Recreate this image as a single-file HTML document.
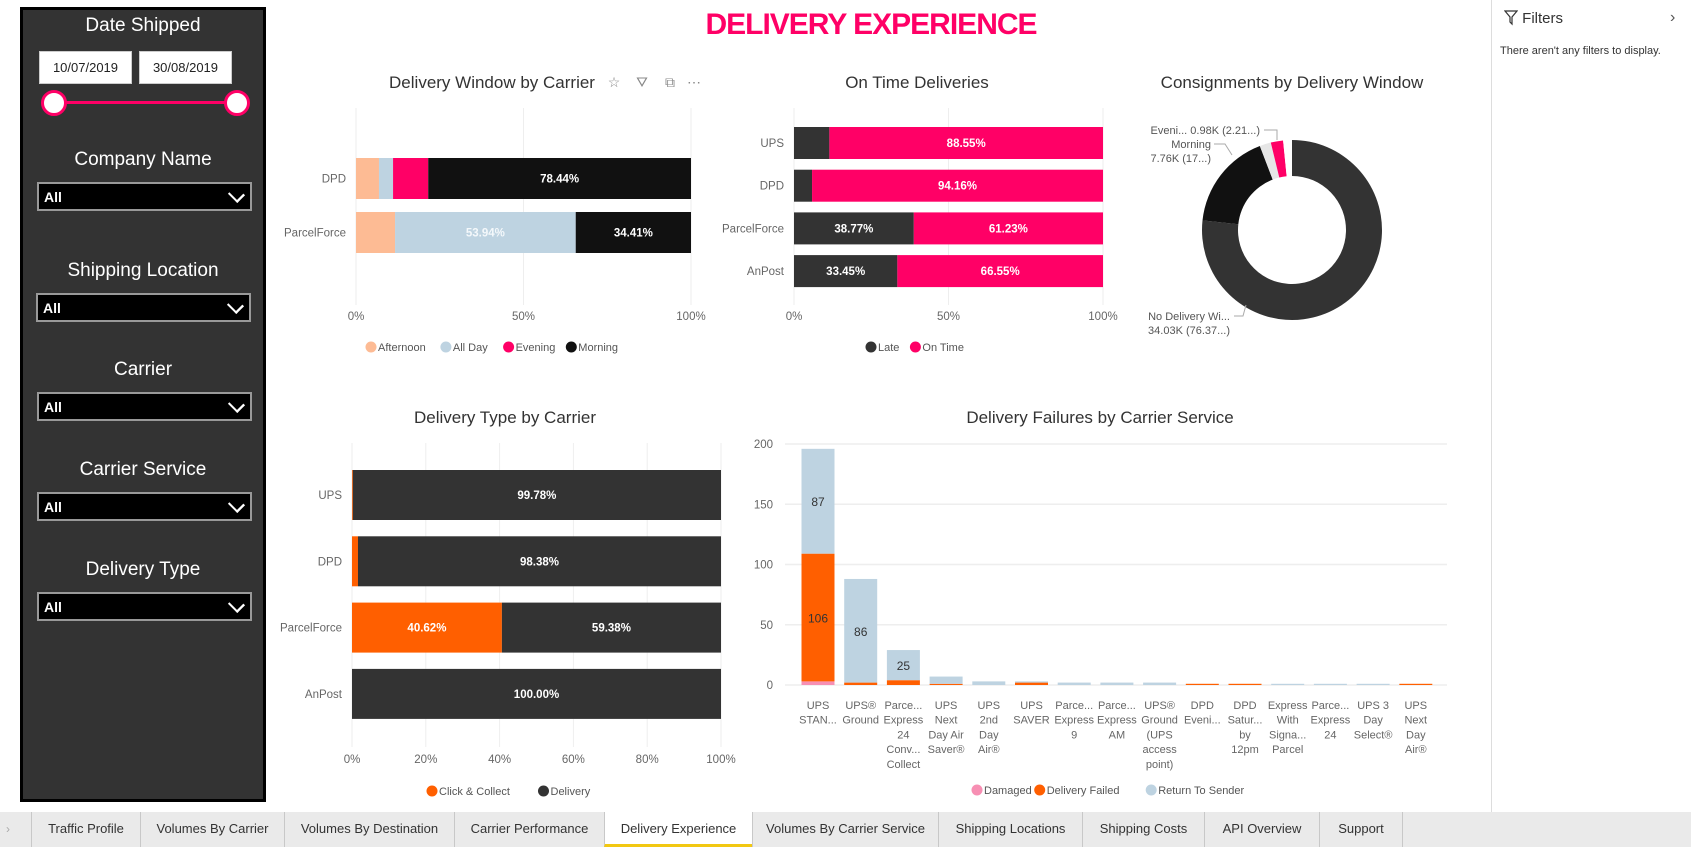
<!DOCTYPE html>
<html><head><meta charset="utf-8">
<style>
*{margin:0;padding:0;box-sizing:border-box}
body{width:1691px;height:847px;position:relative;background:#fff;font-family:"Liberation Sans",sans-serif;overflow:hidden}
.abs{position:absolute}
#panel{left:20px;top:7px;width:246px;height:795px;background:#333;border:3px solid #000}
.ptitle{position:absolute;left:0;width:240px;text-align:center;color:#fff;font-size:19px}
.date{position:absolute;top:41px;height:33px;width:93px;background:#fff;border:1px solid #ccc;font-size:13px;color:#222;text-align:center;line-height:31px}
.dd{position:absolute;left:14px;width:215px;height:29px;background:#000;border:2px solid #999;color:#fff;font-size:14px;font-weight:bold;padding-left:5px;line-height:27px}
.dd span.chev{position:absolute;right:8px;top:5px;width:11px;height:11px;border-right:2px solid #fff;border-bottom:2px solid #fff;transform:rotate(45deg) scaleX(1.2)}
#tabs{left:0;top:812px;width:1691px;height:35px;background:#eaeaea}
.tab{position:absolute;top:0;height:35px;border-left:1px solid #c8c8c8;font-size:13px;color:#333;text-align:center;line-height:34px}
.tab.active{background:#fff;border-bottom:3px solid #F2C811}
</style></head><body>
<div id="panel" class="abs">
 <div class="ptitle" style="top:5px">Date Shipped</div>
 <div class="date" style="left:16px">10/07/2019</div>
 <div class="date" style="left:116px">30/08/2019</div>
 <div class="abs" style="left:31px;top:91px;width:183px;height:3px;background:#FF0066"></div>
 <div class="abs" style="left:18px;top:80px;width:26px;height:26px;border-radius:50%;background:#fff;border:3px solid #FF0066"></div>
 <div class="abs" style="left:201px;top:80px;width:26px;height:26px;border-radius:50%;background:#fff;border:3px solid #FF0066"></div>
 <div class="ptitle" style="top:139px">Company Name</div>
 <div class="dd" style="top:172px">All<span class="chev"></span></div>
 <div class="ptitle" style="top:250px">Shipping Location</div>
 <div class="dd" style="top:283px;left:13px">All<span class="chev"></span></div>
 <div class="ptitle" style="top:349px">Carrier</div>
 <div class="dd" style="top:382px">All<span class="chev"></span></div>
 <div class="ptitle" style="top:449px">Carrier Service</div>
 <div class="dd" style="top:482px">All<span class="chev"></span></div>
 <div class="ptitle" style="top:549px">Delivery Type</div>
 <div class="dd" style="top:582px">All<span class="chev"></span></div>
</div>

<div class="abs" style="left:600px;top:8px;width:542px;text-align:center;font-size:30px;font-weight:bold;color:#FF0066;letter-spacing:-1px">DELIVERY EXPERIENCE</div>

<div class="abs" style="left:1491px;top:0;width:1px;height:812px;background:#ddd"></div>
<div class="abs" style="left:1504px;top:10px;font-size:15px;color:#333">
 <svg width="14" height="16" style="vertical-align:-3px" viewBox="0 0 14 16"><path d="M1 1h12l-5 6v7l-2-2V7z" fill="none" stroke="#333" stroke-width="1.2"/></svg> Filters</div>
<div class="abs" style="left:1670px;top:9px;font-size:16px;color:#555">›</div>
<div class="abs" style="left:1500px;top:45px;font-size:11px;color:#333">There aren't any filters to display.</div>

<svg id="charts" class="abs" style="left:0;top:0" width="1691" height="812"></svg>

<div id="tabs" class="abs">
 <div class="abs" style="left:0;top:0;width:31px;height:35px;color:#aaa;font-size:12px;line-height:34px;padding-left:6px">&#8250;</div>
 <div class="tab" style="left:31px;width:109px">Traffic Profile</div>
 <div class="tab" style="left:140px;width:144px">Volumes By Carrier</div>
 <div class="tab" style="left:284px;width:170px">Volumes By Destination</div>
 <div class="tab" style="left:454px;width:150px">Carrier Performance</div>
 <div class="tab active" style="left:604px;width:148px">Delivery Experience</div>
 <div class="tab" style="left:752px;width:186px">Volumes By Carrier Service</div>
 <div class="tab" style="left:938px;width:144px">Shipping Locations</div>
 <div class="tab" style="left:1082px;width:122px">Shipping Costs</div>
 <div class="tab" style="left:1204px;width:115px">API Overview</div>
 <div class="tab" style="left:1319px;width:84px;border-right:1px solid #c8c8c8">Support</div>
</div>

<script>
// Delivery Window by Carrier
const dwCarriers = ["DPD", "ParcelForce"];
const dwSeries = ["Afternoon", "All Day", "Evening", "Morning"];
const dwAfternoon = [6.86, 11.65];
const dwAllDay = [4.2, 53.94];
const dwEvening = [10.5, 0];
const dwMorning = [78.44, 34.41];
const dwTicks = [0, 50, 100];
// On Time Deliveries
const otCarriers = ["UPS", "DPD", "ParcelForce", "AnPost"];
const otLate = [11.45, 5.84, 38.77, 33.45];
const otOnTime = [88.55, 94.16, 61.23, 66.55];
const otTicks = [0, 50, 100];
// Consignments by Delivery Window
const cwLabels = ["No Delivery Window", "Morning", "All Day", "Evening", "Afternoon"];
const cwValues = [34.03, 7.76, 0.9, 0.98, 0.7];
// Delivery Type by Carrier
const dtCarriers = ["UPS", "DPD", "ParcelForce", "AnPost"];
const dtClick = [0.22, 1.62, 40.62, 0];
const dtDelivery = [99.78, 98.38, 59.38, 100];
const dtTicks = [0, 20, 40, 60, 80, 100];
// Delivery Failures by Carrier Service
const dfServices = [["UPS","STAN..."],["UPS®","Ground"],["Parce...","Express","24","Conv...","Collect"],["UPS","Next","Day Air","Saver®"],["UPS","2nd","Day","Air®"],["UPS","SAVER"],["Parce...","Express","9"],["Parce...","Express","AM"],["UPS®","Ground","(UPS","access","point)"],["DPD","Eveni..."],["DPD","Satur...","by","12pm"],["Express","With","Signa...","Parcel"],["Parce...","Express","24"],["UPS 3","Day","Select®"],["UPS","Next","Day","Air®"]];
const dfDamaged = [3,0,0,0,0,0,0,0,0,0,0,0,0,0,0];
const dfFailed = [106,2,4,1,0,2,0,0,0,1,1,0,0,0,1];
const dfReturn = [87,86,25,6,3,1,2,2,2,0,0,1,1,1,0];
const dfTicks = [0, 50, 100, 150, 200];

const svg = document.getElementById('charts');
const NS = 'http://www.w3.org/2000/svg';
function mk(tag, attrs, parent){const e=document.createElementNS(NS,tag);for(const k in attrs)e.setAttribute(k,attrs[k]);(parent||svg).appendChild(e);return e;}
function txt(x,y,s,attrs){const e=mk('text',Object.assign({x:x,y:y,'font-family':'Liberation Sans, sans-serif'},attrs));e.textContent=s;return e;}

function legend(x,y,items){
  let cx=x;
  items.forEach(it=>{
    const c=mk('circle',{cx:cx+5,cy:y,r:5.5,fill:it[1]});
    
    
    const t=txt(cx+12,y+4,it[0],{'font-size':11,fill:'#555'});
    
    
    cx+=12+it[0].length*6.1+8;
  });
}

function hbar(opts){
  const {x0,x1,gTop,gBot,cats,series,colors,labelColors,ticks,bandTop,bandH,gap,title,titleX,titleY,tickY,name}=opts;
  const sx=v=>x0+(x1-x0)*v/100;
  const t=txt(titleX,titleY,title,{'font-size':17,fill:'#333','text-anchor':'middle'});
  
  
  ticks.forEach(v=>{
    const l=mk('line',{x1:sx(v),x2:sx(v),y1:gTop,y2:gBot,stroke:'#eee'});
    
    
    const tl=txt(sx(v),tickY,v+'%',{'font-size':11.5,fill:'#666','text-anchor':'middle'});
    
    
  });
  cats.forEach((c,i)=>{
    const y=bandTop+i*(bandH+gap);
    const cl=txt(x0-10,y+bandH/2+4,c,{'font-size':11.5,fill:'#666','text-anchor':'end'});
    
    
    let acc=0;
    series.forEach((s,j)=>{
      const v=s[i]; if(v<=0)return;
      const r=mk('rect',{x:sx(acc),y:y,width:sx(acc+v)-sx(acc),height:bandH,fill:colors[j]});
      
      
      if(v>25){
        const vl=txt((sx(acc)+sx(acc+v))/2,y+bandH/2+4,v.toFixed(2)+'%',{'font-size':11.5,'font-weight':'bold',fill:labelColors[j],'text-anchor':'middle'});
        
        
      }
      acc+=v;
    });
  });
}

hbar({x0:356,x1:691,gTop:108,gBot:305,cats:dwCarriers,series:[dwAfternoon,dwAllDay,dwEvening,dwMorning],
 colors:['#FDBB94','#BED3E1','#FF0066','#111111'],labelColors:['#fff','#f4f8fb','#fff','#fff'],ticks:dwTicks,
 bandTop:158,bandH:41,gap:13,title:'Delivery Window by Carrier',titleX:492,titleY:88,tickY:320,name:'delivery-window-chart'});
legend(366,347,[['Afternoon','#FDBB94'],['All Day','#BED3E1'],['Evening','#FF0066'],['Morning','#111111']]);
[['pin-icon',614,'☆'],['filter-icon',642,'⛛'],['focus-icon',670,'⧉'],['more-options-icon',694,'⋯']].forEach(a=>{
  const e=txt(a[1],87,a[2],{'font-size':14,fill:'#888','text-anchor':'middle'});
  
  
});

hbar({x0:794,x1:1103,gTop:108,gBot:305,cats:otCarriers,series:[otLate,otOnTime],
 colors:['#333333','#FF0066'],labelColors:['#fff','#fff'],ticks:otTicks,
 bandTop:127,bandH:32,gap:10.7,title:'On Time Deliveries',titleX:917,titleY:88,tickY:320,name:'on-time-chart'});
legend(866,347,[['Late','#333333'],['On Time','#FF0066']]);

hbar({x0:352,x1:721,gTop:443,gBot:747,cats:dtCarriers,series:[dtClick,dtDelivery],
 colors:['#FF5F00','#333333'],labelColors:['#fff','#fff'],ticks:dtTicks,
 bandTop:470,bandH:50,gap:16.3,title:'Delivery Type by Carrier',titleX:505,titleY:423,tickY:763,name:'delivery-type-chart'});
legend(427,791,[['Click & Collect','#FF5F00'],['Delivery','#333333']]);

(function(){
  const cx=1292,cy=230,R=90,r=54;
  const t=txt(1292,88,'Consignments by Delivery Window',{'font-size':17,fill:'#333','text-anchor':'middle'});
  
  
  const colors=['#333333','#111111','#E6E6E6','#FF0066','#FFFFFF'];
  const total=cwValues.reduce((a,b)=>a+b,0);
  let a0=0;
  cwValues.forEach((v,i)=>{
    const a1=a0+v/total*2*Math.PI;
    const p=(a,rad)=>[cx+rad*Math.sin(a),cy-rad*Math.cos(a)];
    const large=(a1-a0)>Math.PI?1:0;
    const [x1,y1]=p(a0,R),[x2,y2]=p(a1,R),[x3,y3]=p(a1,r),[x4,y4]=p(a0,r);
    const s=mk('path',{d:`M${x1},${y1}A${R},${R} 0 ${large} 1 ${x2},${y2}L${x3},${y3}A${r},${r} 0 ${large} 0 ${x4},${y4}Z`,fill:colors[i]});
    
    
    a0=a1;
  });
  const lab=[[1260,134,'Eveni... 0.98K (2.21...)'],[1211,148,'Morning'],[1211,162,'7.76K (17...)'],[1230,320,'No Delivery Wi...'],[1230,334,'34.03K (76.37...)']];
  lab.forEach(l=>{
    const e=txt(l[0],l[1],l[2],{'font-size':11,fill:'#555','text-anchor':'end'});
    
    
  });
  [[ 'M1264,130H1277V140'],['M1214,144H1225L1232,155'],['M1234,316H1243L1246,305']].forEach(d=>{
    const e=mk('path',{d:d[0],fill:'none',stroke:'#aaa'});
    
    
  });
})();

(function(){
  const gx0=785,gx1=1447,y0=685,y200=444;
  const sy=v=>y0-(y0-y200)*v/200;
  const t=txt(1100,423,'Delivery Failures by Carrier Service',{'font-size':17,fill:'#333','text-anchor':'middle'});
  
  
  dfTicks.forEach(v=>{
    const l=mk('line',{x1:gx0,x2:gx1,y1:sy(v),y2:sy(v),stroke:'#eee','stroke-width':1.5});
    
    
    const tl=txt(773,sy(v)+4,String(v),{'font-size':11.5,fill:'#666','text-anchor':'end'});
    
    
  });
  const step=42.7,bw=33,first=818;
  dfServices.forEach((lines,i)=>{
    const cx=first+i*step;
    let acc=0;
    [[dfDamaged,'#F78FB3'],[dfFailed,'#FF5F00'],[dfReturn,'#BED3E1']].forEach(s=>{
      const v=s[0][i]; if(v<=0)return;
      const r=mk('rect',{x:cx-bw/2,y:sy(acc+v),width:bw,height:sy(acc)-sy(acc+v),fill:s[1]});
      
      
      if(v>=20){
        const vl=txt(cx,(sy(acc)+sy(acc+v))/2+5,String(v),{'font-size':12,fill:'#333','text-anchor':'middle'});
        
        
      }
      acc+=v;
    });
    lines.forEach((ln,k)=>{
      const e=txt(cx,709+k*14.7,ln,{'font-size':11,fill:'#666','text-anchor':'middle'});
      
      
    });
  });
  legend(972,790,[['Damaged','#F78FB3'],['Delivery Failed','#FF5F00'],['Return To Sender','#BED3E1']]);
})();
</script>
</body></html>
